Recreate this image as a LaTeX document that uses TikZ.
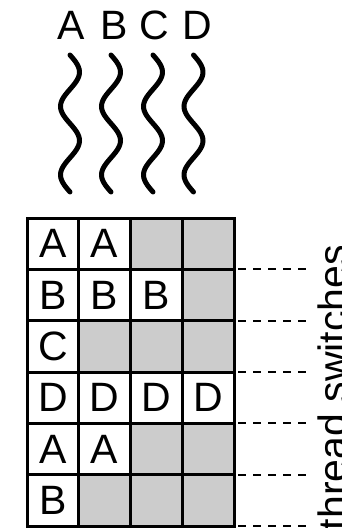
\documentclass[tikz,border=0pt]{standalone}
\usepackage{fontspec}
\setmainfont{Liberation Sans}
\usetikzlibrary{positioning}

\begin{document}
\begin{tikzpicture}[
    x=1pt, y=1pt,
    node distance=0pt,
    letters/.style={font=\fontsize{41}{45}\selectfont},
    cell/.style={letters, draw, line width=3pt, fill=white, outer sep=0pt, inner sep=0pt, minimum width=51.75pt, minimum height=51.33pt},
    idle/.style={cell, fill=black!20},
    thread/.style={letters, anchor=base, inner sep=0pt},
    wave/.style={line width=5pt, line cap=round},
    switch/.style={line width=2pt, dash pattern=on 8pt off 7pt}
]
\useasboundingbox (0,0) rectangle (341,-528);
\clip (0,0) rectangle (341,-528);

% threads
\node[thread] (tA) at (71,-39) {A};
\node[thread] (tB) at (114,-39) {B};
\node[thread] (tC) at (154,-39) {C};
\node[thread] (tD) at (197,-39) {D};

\draw[wave] plot[domain=0:137, samples=60, smooth] ({70+9.5*sin(\x*5.2555)}, {-55-\x});
\draw[wave] plot[domain=0:137, samples=60, smooth] ({111+9.5*sin(\x*5.2555)}, {-55-\x});
\draw[wave] plot[domain=0:137, samples=60, smooth] ({153+9.5*sin(\x*5.2555)}, {-55-\x});
\draw[wave] plot[domain=0:137, samples=60, smooth] ({193.5+9.5*sin(\x*5.2555)}, {-55-\x});

% time slots
\node[cell] (r1c1) at (52.9,-243.7) {A};
\node[cell] (r1c2) [right=of r1c1] {A};
\node[idle] (r1c3) [right=of r1c2] {};
\node[idle] (r1c4) [right=of r1c3] {};

\node[cell] (r2c1) [below=of r1c1] {B};
\node[cell] (r2c2) [right=of r2c1] {B};
\node[cell] (r2c3) [right=of r2c2] {B};
\node[idle] (r2c4) [right=of r2c3] {};

\node[cell] (r3c1) [below=of r2c1] {C};
\node[idle] (r3c2) [right=of r3c1] {};
\node[idle] (r3c3) [right=of r3c2] {};
\node[idle] (r3c4) [right=of r3c3] {};

\node[cell] (r4c1) [below=of r3c1] {D};
\node[cell] (r4c2) [right=of r4c1] {D};
\node[cell] (r4c3) [right=of r4c2] {D};
\node[cell] (r4c4) [right=of r4c3] {D};

\node[cell] (r5c1) [below=of r4c1] {A};
\node[cell] (r5c2) [right=of r5c1] {A};
\node[idle] (r5c3) [right=of r5c2] {};
\node[idle] (r5c4) [right=of r5c3] {};

\node[cell] (r6c1) [below=of r5c1] {B};
\node[idle] (r6c2) [right=of r6c1] {};
\node[idle] (r6c3) [right=of r6c2] {};
\node[idle] (r6c4) [right=of r6c3] {};

% switches
\node[letters, rotate=90, anchor=base east, inner sep=0pt] (switches) at (347,-245) {thread switches};
\coordinate (tick) at (308,0);

\draw[switch] ([xshift=4pt]r1c4.south east) -- (r1c4.south east -| tick);
\draw[switch] ([xshift=4pt]r2c4.south east) -- (r2c4.south east -| tick);
\draw[switch] ([xshift=4pt]r3c4.south east) -- (r3c4.south east -| tick);
\draw[switch] ([xshift=4pt]r4c4.south east) -- (r4c4.south east -| tick);
\draw[switch] ([xshift=4pt]r5c4.south east) -- (r5c4.south east -| tick);
\draw[switch] ([xshift=4pt]r6c4.south east) -- (r6c4.south east -| tick);
\end{tikzpicture}
\end{document}
